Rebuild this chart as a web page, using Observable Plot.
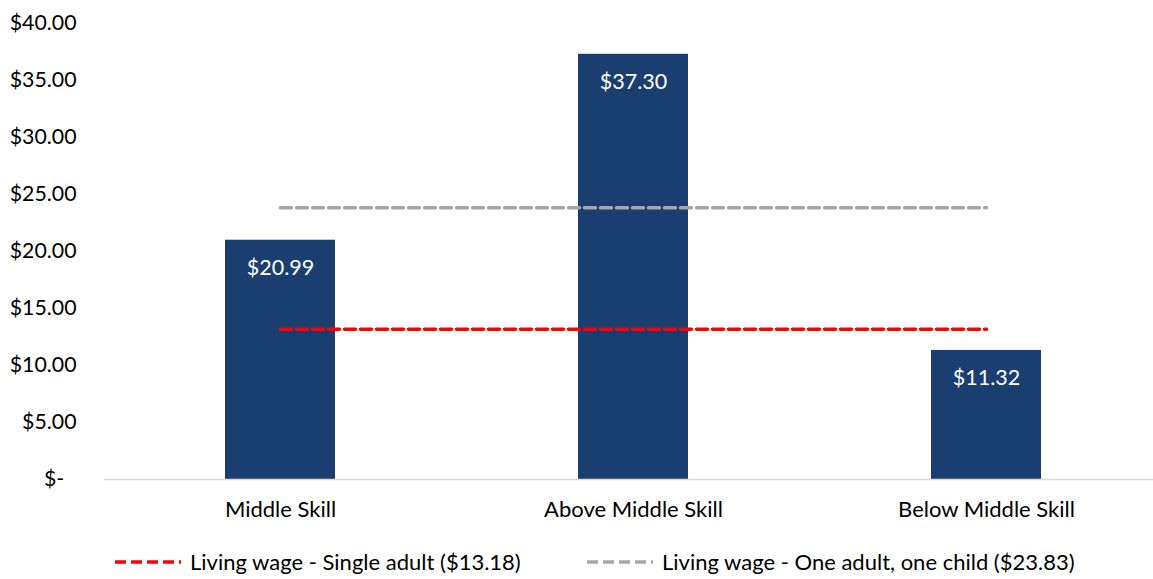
<!DOCTYPE html>
<html>
<head>
<meta charset="utf-8">
<script src="https://cdn.jsdelivr.net/npm/d3@7"></script>
<script src="https://cdn.jsdelivr.net/npm/@observablehq/plot@0.6"></script>
<style>
  html, body { margin: 0; padding: 0; background: #fff; }
  body { width: 1153px; height: 579px; overflow: hidden; font-family: Lato, "Open Sans", sans-serif; }
  #legend { position: relative; height: 35px; font-size: 22px; color: #000; }
  .item { position: absolute; top: 0; height: 35px; display: flex; align-items: center; white-space: nowrap; }
  .item svg { margin-right: 7px; }
</style>
</head>
<body>
<div id="chart"></div>
<div id="legend"></div>
<script>
const categories = ["Middle Skill", "Above Middle Skill", "Below Middle Skill"];
const wages = [20.99, 37.30, 11.32];
const yTicks = [0, 5, 10, 15, 20, 25, 30, 35, 40];
const livingWageSingle = 13.18;
const livingWageOneChild = 23.83;
const seriesNames = ["Living wage - Single adult ($13.18)", "Living wage - One adult, one child ($23.83)"];

const bars = categories.map((c, i) => ({cat: c, v: wages[i]}));
const single = categories.map(c => ({cat: c, v: livingWageSingle}));
const oneChild = categories.map(c => ({cat: c, v: livingWageOneChild}));

const fmt = d => d === 0 ? "$-\u2007" : "$" + d.toFixed(2);

const chart = Plot.plot({
  width: 1153,
  height: 544,
  marginLeft: 104,
  marginRight: 0,
  marginTop: 23,
  marginBottom: 65,
  style: {fontFamily: "Lato, 'Open Sans', sans-serif", fontSize: "21px", color: "#000", background: "#fff"},
  x: {type: "band", domain: categories, range: [104, 1163], paddingInner: 0.688, paddingOuter: 0.344, align: 0.5, label: null},
  y: {domain: [0, 40], label: null},
  marks: [
    Plot.barY(bars, {x: "cat", y: "v", fill: "#1A3E6F"}),
    Plot.ruleY([0], {stroke: "#d9d9d9", strokeWidth: 1.5}),
    Plot.text(bars, {x: "cat", y: "v", text: d => "$" + d.v.toFixed(2), dy: 28, fill: "#fff", fontSize: 21.5}),
    Plot.lineY(single, {x: "cat", y: "v", stroke: "#FF0000", strokeWidth: 3.5, strokeDasharray: "11,5"}),
    Plot.lineY(oneChild, {x: "cat", y: "v", stroke: "#A6A6A6", strokeWidth: 3.5, strokeDasharray: "11,5"}),
    Plot.axisY({ticks: yTicks, tickFormat: fmt, tickSize: 0, tickPadding: 28, fontSize: 21.3, label: null}),
    Plot.axisX({tickSize: 0, tickPadding: 22, fontSize: 22, label: null})
  ]
});
document.getElementById("chart").appendChild(chart);

const legend = document.getElementById("legend");
const colors = ["#FF0000", "#A6A6A6"];
const lefts = [113, 585];
seriesNames.forEach((name, i) => {
  const item = document.createElement("div");
  item.className = "item";
  item.style.left = lefts[i] + "px";
  item.innerHTML = `<svg width="70" height="6"><line x1="2" x2="68" y1="3" y2="3" stroke="${colors[i]}" stroke-width="3.5" stroke-dasharray="11,5"/></svg><span>${name}</span>`;
  legend.appendChild(item);
});
</script>
</body>
</html>
